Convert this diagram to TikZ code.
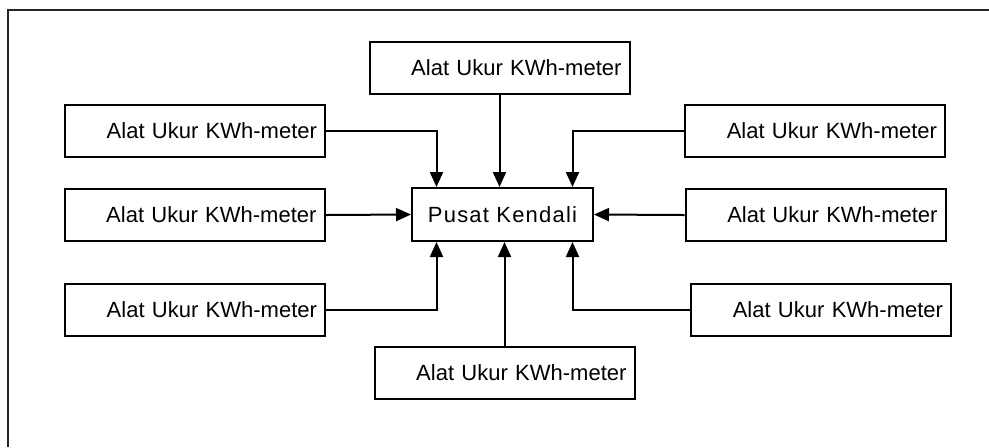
\documentclass[tikz,border=0pt]{standalone}
\usepackage{fontspec}
\setmainfont{Liberation Sans}
\usetikzlibrary{calc, arrows.meta}

\begin{document}
\begin{tikzpicture}[x=0.5pt,y=-0.5pt,
    font=\fontsize{11}{13}\selectfont,
    meterbox/.style={draw, line width=1pt, minimum height=26pt, text width=122pt, align=right, inner xsep=4pt},
    pusatbox/.style={draw, line width=1pt, minimum width=90.5pt, minimum height=26.5pt,
      font=\fontsize{11}{13}\selectfont\addfontfeatures{LetterSpace=5.5}},
    feed/.style={line width=1pt, -{Triangle[length=7.5pt,width=6.5pt]}}]
    \useasboundingbox (0,0) rectangle (989,447);
    \draw[line width=0.6pt, black!85] (8,447) -- (8,10) -- (989,10);
    % pusat
    \node[pusatbox] (pk) at (502.5,214.5) {Pusat Kendali};
    % alat ukur
    \node[meterbox] (t) at (499.5,68) {Alat Ukur KWh-meter};
    \node[meterbox] (b) at (504.5,372.5) {Alat Ukur KWh-meter};
    \node[meterbox] (m1) at (195,131) {Alat Ukur KWh-meter};
    \node[meterbox] (m2) at (194.5,215) {Alat Ukur KWh-meter};
    \node[meterbox] (m3) at (195,309.5) {Alat Ukur KWh-meter};
    \node[meterbox] (r1) at (815,131) {Alat Ukur KWh-meter};
    \node[meterbox] (r2) at (815.5,215) {Alat Ukur KWh-meter};
    \node[meterbox] (r3) at (821,309.5) {Alat Ukur KWh-meter};
    % panah
    \draw[feed] (t.south) -- (t.south |- pk.north);
    \draw[feed] (b.north) -- (b.north |- pk.south);
    \draw[feed] (m1.east) -| ([xshift=-33pt]pk.north);
    \draw[feed] (m2.east) -- (pk.west);
    \draw[feed] (m3.east) -| ([xshift=-33pt]pk.south);
    \draw[feed] (r1.west) -| ([xshift=35pt]pk.north);
    \draw[feed] (r2.west) -- (pk.east);
    \draw[feed] (r3.west) -| ([xshift=35pt]pk.south);
\end{tikzpicture}
\end{document}
